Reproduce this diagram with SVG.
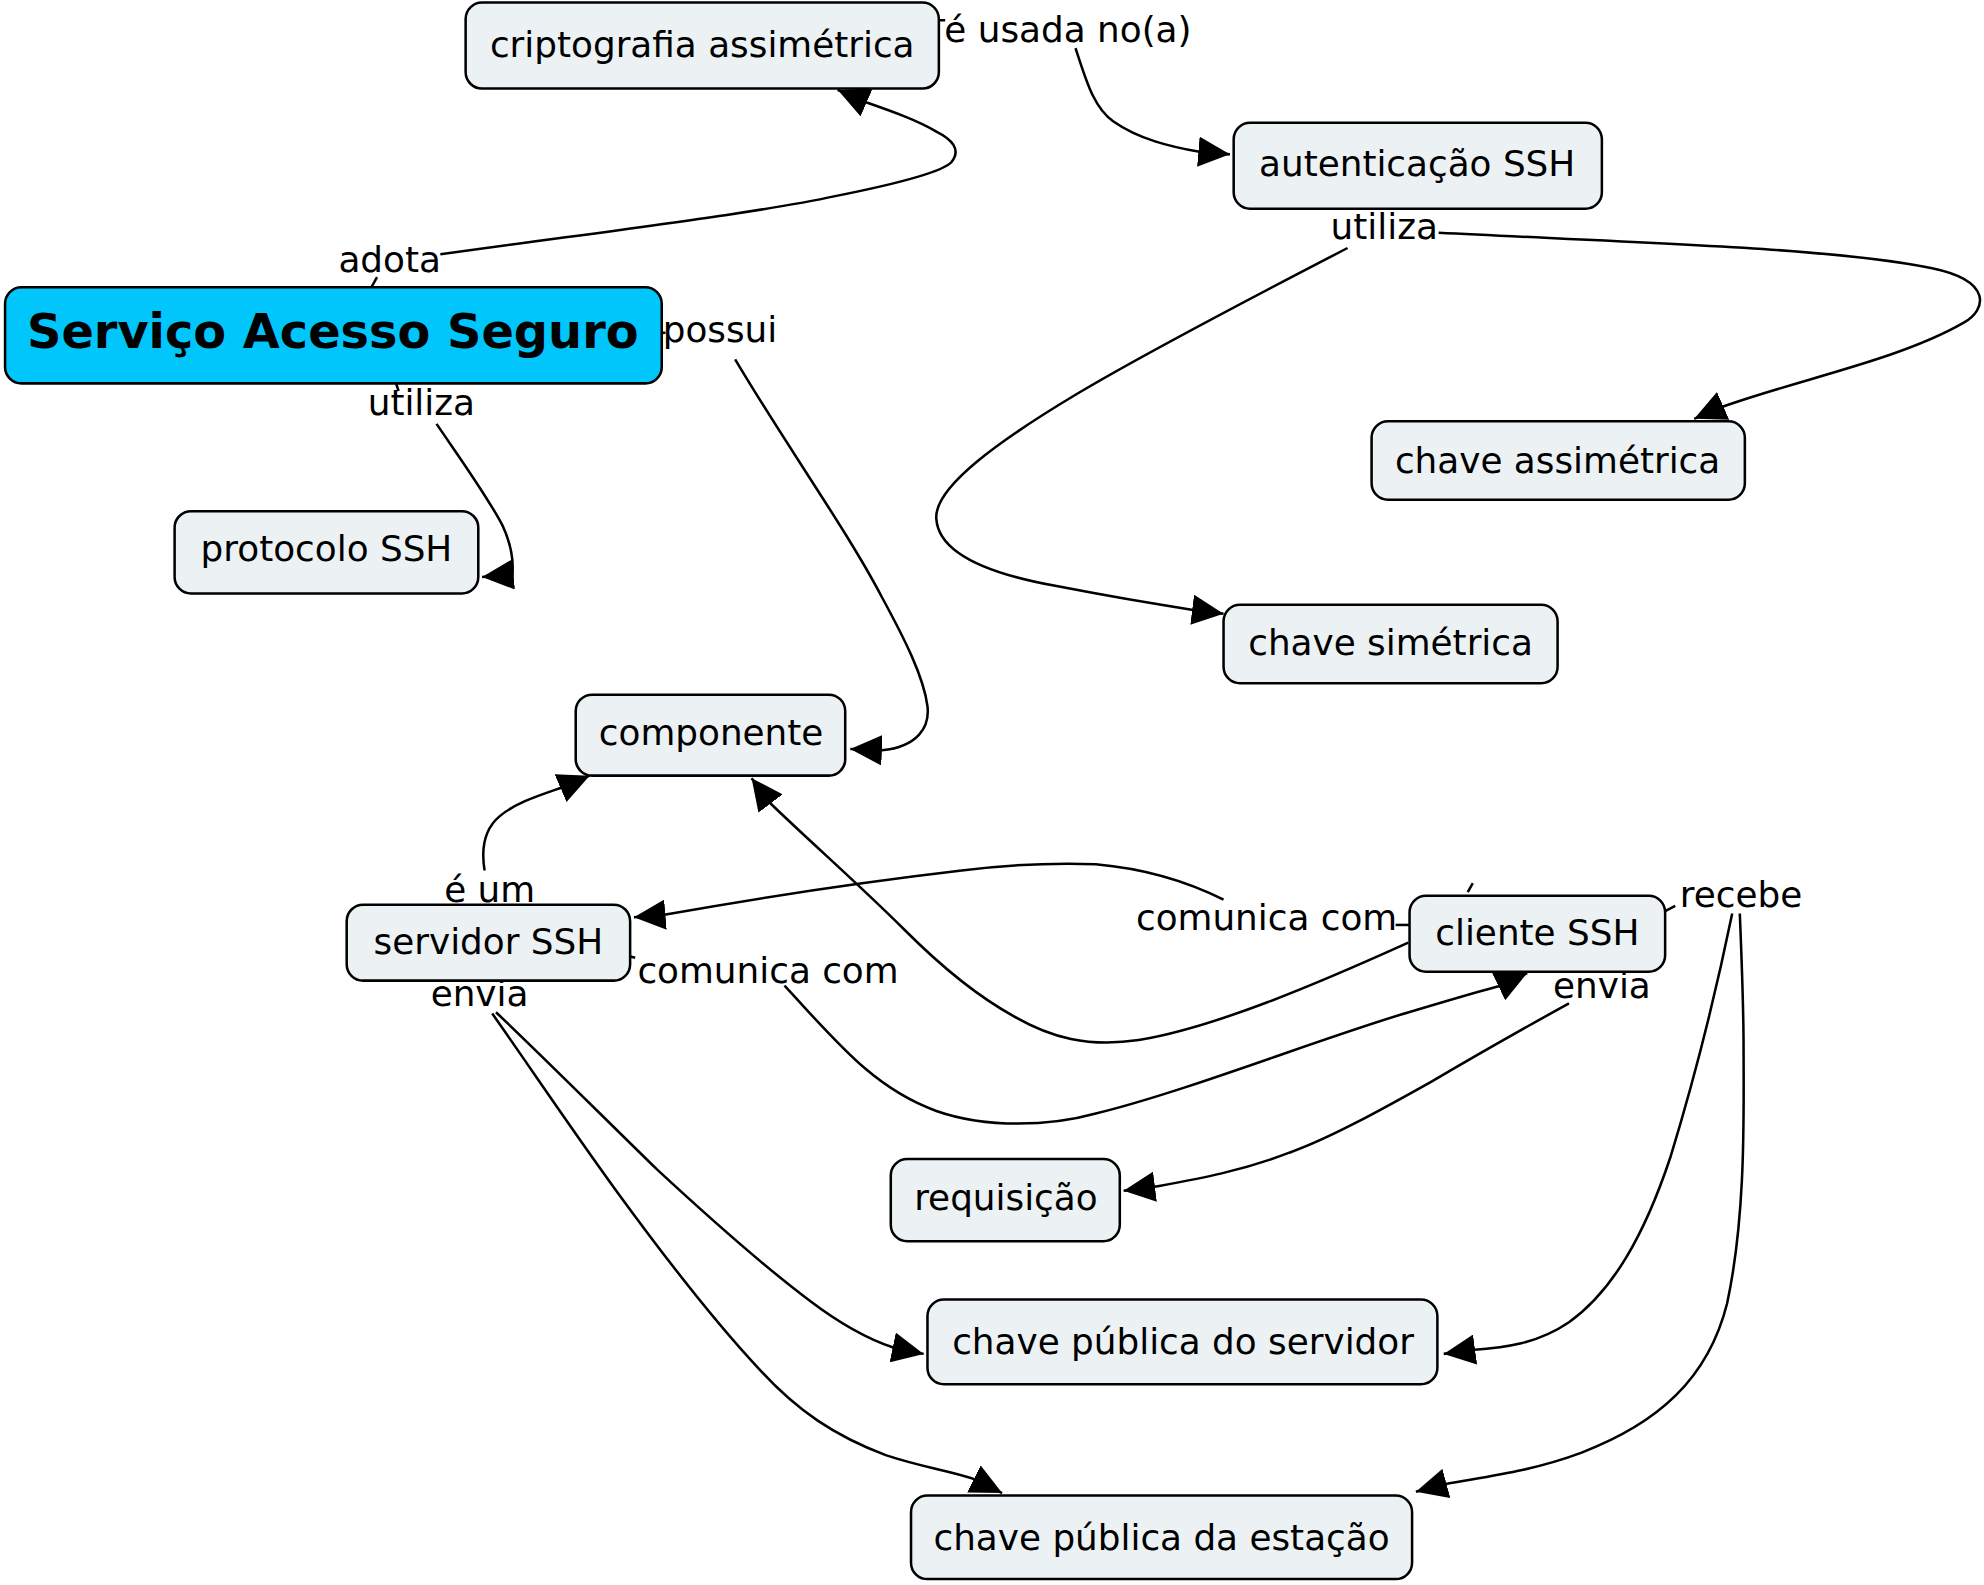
<svg xmlns="http://www.w3.org/2000/svg" width="1984" height="1585" viewBox="0 0 1984 1585">
<defs>
<style>
.n rect{fill:#ecf2f4;stroke:#000;stroke-width:2}
.n.main rect{fill:#00c6fc}
.n text{font-family:"DejaVu Sans",Verdana,sans-serif;font-size:28.3px;fill:#000;text-anchor:middle}
.n.main text{font-weight:bold;font-size:37.8px}
.lbl{font-family:"DejaVu Sans",Verdana,sans-serif;font-size:28.3px;fill:#000;text-anchor:middle}
.c path,.c line{fill:none;stroke:#000;stroke-width:2}
.c path.a{marker-end:url(#ah)}
</style>
<marker id="ah" viewBox="0 0 25 24" refX="25" refY="12" markerWidth="25" markerHeight="24" markerUnits="userSpaceOnUse" orient="auto">
<path d="M0,0 L25,12 L0,24 z" fill="#000"/>
</marker>
</defs>
<rect width="1984" height="1585" fill="#fff"/>
<g transform="scale(1.265306)">
<g id="connectors" class="c">
<path class="a" d="M348,201 C500,180 600,168 660,155 C710,145 745,136 752,128 C760,118 752,110 740,104 C725,95 705,88 685,81 L662,71"/>
<path class="a" d="M850,38 C858,62 864,85 880,96 C900,110 925,116 948,120 L972,122"/>
<path class="a" d="M1137,184 C1300,192 1450,196 1527,212 C1575,222 1570,245 1552,255 C1500,285 1420,300 1357,323 L1339,331"/>
<path class="a" d="M1065,196 C980,240 900,282 850,312 C790,348 738,385 740,410 C742,440 790,455 834,463 C870,470 910,477 943,482 L967,485"/>
<path class="a" d="M345,335 C362,360 385,392 397,415 C404,430 406,442 405,454 L381,456"/>
<path class="a" d="M581,284 C620,350 670,420 697,472 C715,505 730,535 733,558 C735,575 725,590 697,593 L672,592"/>
<path class="a" d="M383,688 C380,670 383,655 395,645 C408,634 428,628 445,622 L466,613"/>
<path class="a" d="M967,711 C935,695 900,686 866,683 C840,682 800,683 760,688 C700,695 620,706 525,723 L501,725"/>
<path class="a" d="M620,779 C660,822 690,860 740,878 C780,892 830,890 866,880 C940,862 1050,818 1120,798 C1150,789 1170,783 1186,779 L1207,769"/>
<path class="a" d="M1113,745 C1040,778 960,812 900,822 C860,828 830,820 801,803 C770,786 740,760 715,735 C680,700 640,665 609,635 L594,615"/>
<path class="a" d="M1240,793 C1200,815 1160,838 1131,855 C1090,878 1050,900 1019,911 C980,926 945,932 912,938 L888,941"/>
<path class="a" d="M392,800 C430,836 480,886 519,924 C560,962 600,998 640,1028 C665,1047 685,1058 706,1065 L730,1070"/>
<path class="a" d="M389,801 C420,845 450,890 487,941 C530,1000 570,1050 600,1082 C630,1115 660,1135 700,1150 C730,1160 750,1162 770,1169 L792,1180"/>
<path class="a" d="M1369,722 C1355,790 1340,850 1320,915 C1300,975 1275,1020 1240,1045 C1215,1062 1190,1065 1163,1067 L1141,1070"/>
<path class="a" d="M1375,722 C1377,770 1378,800 1378,830 C1378,880 1380,960 1365,1030 C1350,1090 1310,1125 1250,1148 C1210,1163 1170,1168 1141,1173 L1119,1179"/>
<line x1="741" y1="16" x2="747" y2="16"/>
<line x1="293" y1="228" x2="298" y2="219"/>
<line x1="522" y1="263" x2="526" y2="263"/>
<line x1="313" y1="303" x2="315" y2="309"/>
<line x1="498" y1="756" x2="502" y2="757"/>
<line x1="1103" y1="731" x2="1114" y2="731"/>
<line x1="1316" y1="720" x2="1324" y2="716"/>
<line x1="1160" y1="705" x2="1164" y2="698"/>
</g>
<g id="labels">
<text class="lbl" x="844" y="33">é usada no(a)</text>
<text class="lbl" x="308" y="215">adota</text>
<text class="lbl" x="569" y="270">possui</text>
<text class="lbl" x="333" y="328">utiliza</text>
<text class="lbl" x="1094" y="189">utiliza</text>
<text class="lbl" x="387" y="713">é um</text>
<text class="lbl" x="379" y="795">envia</text>
<text class="lbl" x="607" y="777">comunica com</text>
<text class="lbl" x="1001" y="735">comunica com</text>
<text class="lbl" x="1376" y="717">recebe</text>
<text class="lbl" x="1266" y="789">envia</text>
</g>
<g id="n-cripto" class="n"><rect x="368" y="2" width="374" height="68" rx="13"/><text x="555" y="45">criptografia assimétrica</text></g>
<g id="n-autent" class="n"><rect x="975" y="97" width="291" height="68" rx="13"/><text x="1120" y="139">autenticação SSH</text></g>
<g id="n-servico" class="n main"><rect x="4" y="227" width="519" height="76" rx="13"/><text x="263" y="275">Serviço Acesso Seguro</text></g>
<g id="n-chave-assim" class="n"><rect x="1084" y="333" width="295" height="62" rx="13"/><text x="1231" y="374">chave assimétrica</text></g>
<g id="n-protocolo" class="n"><rect x="138" y="404" width="240" height="65" rx="13"/><text x="258" y="443">protocolo SSH</text></g>
<g id="n-chave-sim" class="n"><rect x="967" y="478" width="264" height="62" rx="13"/><text x="1099" y="518">chave simétrica</text></g>
<g id="n-componente" class="n"><rect x="455" y="549" width="213" height="64" rx="13"/><text x="562" y="589">componente</text></g>
<g id="n-servidor" class="n"><rect x="274" y="715" width="224" height="60" rx="13"/><text x="386" y="754">servidor SSH</text></g>
<g id="n-cliente" class="n"><rect x="1114" y="708" width="202" height="60" rx="13"/><text x="1215" y="747">cliente SSH</text></g>
<g id="n-requisicao" class="n"><rect x="704" y="916" width="181" height="65" rx="13"/><text x="795" y="956">requisição</text></g>
<g id="n-pub-servidor" class="n"><rect x="733" y="1027" width="403" height="67" rx="13"/><text x="935" y="1070">chave pública do servidor</text></g>
<g id="n-pub-estacao" class="n"><rect x="720" y="1182" width="396" height="66" rx="13"/><text x="918" y="1225">chave pública da estação</text></g>
</g>
</svg>
